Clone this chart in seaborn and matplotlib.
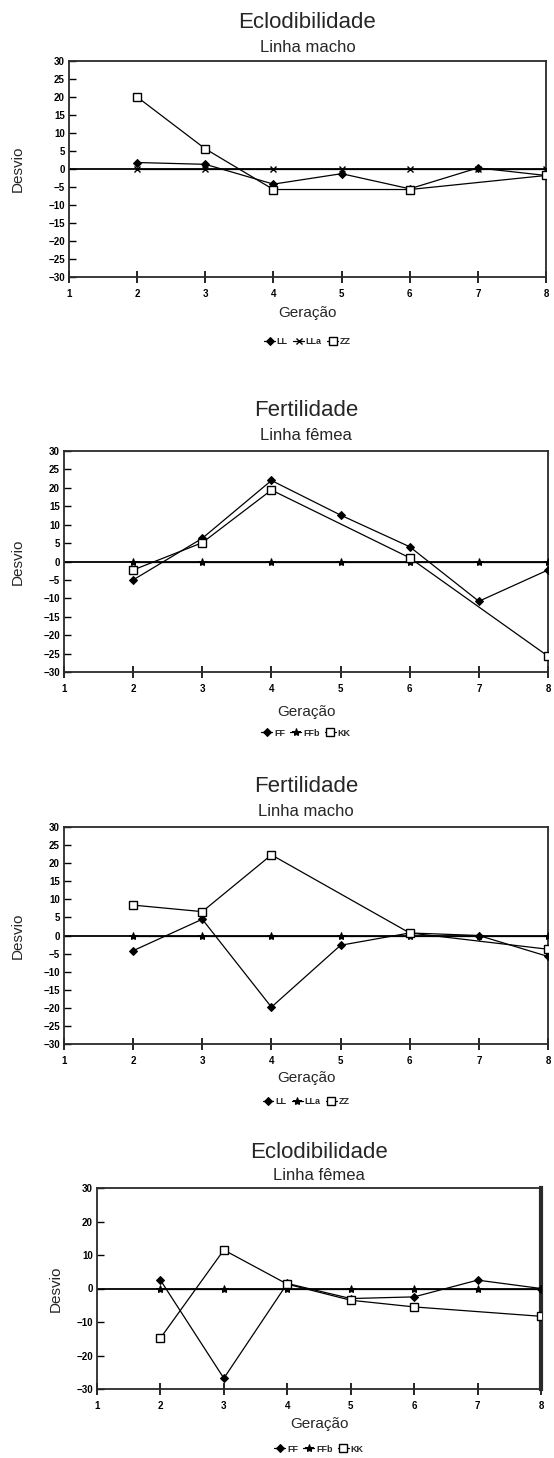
import numpy as np
import pandas as pd
import matplotlib
matplotlib.use("Agg")
import matplotlib.pyplot as plt
import seaborn as sns

# --- dados (desvio por geração) ---
geracao = [2, 3, 4, 5, 6, 7, 8]

eclod_macho_LL = [1.8, 1.3, -4.2, -1.3, -5.5, 0.3, -1.8]
eclod_macho_LLa = [0, 0, 0, 0, 0, 0, 0]
eclod_macho_ZZ = [20.0, 5.6, -5.7, None, -5.7, None, -1.8]

fert_femea_FF = [-5.0, 6.3, 22.0, 12.6, 4.0, -10.8, -2.3]
fert_femea_FFb = [0, 0, 0, 0, 0, 0, 0]
fert_femea_KK = [-2.3, 5.1, 19.4, None, 1.0, None, -25.7]

fert_macho_LL = [-4.2, 4.5, -19.8, -2.7, 0.7, 0.0, -5.8]
fert_macho_LLa = [0, 0, 0, 0, 0, 0, 0]
fert_macho_ZZ = [8.4, 6.6, 22.3, None, 0.7, None, -3.8]

eclod_femea_FF = [2.5, -26.8, 1.5, -3.0, -2.5, 2.5, 0.0]
eclod_femea_FFb = [0, 0, 0, 0, 0, 0, 0]
eclod_femea_KK = [-14.8, 11.5, 1.3, -3.5, -5.5, None, -8.3]

x_ticks = [1, 2, 3, 4, 5, 6, 7, 8]
y_ticks_5 = [-30, -25, -20, -15, -10, -5, 0, 5, 10, 15, 20, 25, 30]
y_ticks_10 = [-30, -20, -10, 0, 10, 20, 30]

sns.set_theme(style="white")
plt.rcParams['font.family'] = ['Liberation Sans', 'DejaVu Sans']

W, H = 554, 1458
fig = plt.figure(figsize=(W / 100, H / 100), dpi=100)

# estilos dos marcadores
FILLED = dict(marker='D', markersize=4, markerfacecolor='black', markeredgecolor='black')
STAR = dict(marker='*', markersize=6, markerfacecolor='black', markeredgecolor='black')
CROSS = dict(marker='x', markersize=5, markeredgecolor='black', markeredgewidth=1)
SQUARE = dict(marker='s', markersize=6, markerfacecolor='white', markeredgecolor='black',
              markeredgewidth=1)


def draw_panel(box, titulo, subtitulo, series, yticks, y_tit, y_sub, x_desvio,
               y_ger, y_leg, thick_right=False):
    L, R, T, B = box
    ax = fig.add_axes([L / W, 1 - B / H, (R - L) / W, (B - T) / H])
    ax.axhline(0, color='black', lw=1.3, zorder=1)
    for label, valores, estilo in series:
        df = pd.DataFrame({'Geração': geracao, 'Desvio': valores}).dropna()
        sns.lineplot(data=df, x='Geração', y='Desvio', ax=ax, color='black',
                     lw=0.9, label=label, zorder=3, **estilo)
    ax.set_xlim(1, 8)
    ax.set_ylim(-30, 30)
    ax.set_xticks(x_ticks)
    ax.set_yticks(yticks)
    ax.tick_params(axis='x', bottom=True, direction='inout', length=9, width=1.2,
                   pad=4, labelsize=7, colors='black')
    ax.tick_params(axis='y', left=True, direction='in', length=5, width=1,
                   pad=3, labelsize=7, colors='black')
    for t in ax.get_xticklabels() + ax.get_yticklabels():
        t.set_fontweight('bold')
    for s in ax.spines.values():
        s.set_color('#2a2a2a')
        s.set_linewidth(1.3)
    if thick_right:
        ax.spines['right'].set_linewidth(3)

    # rótulos posicionados em pixels (centro do texto)
    ax.set_ylabel('Desvio', fontsize=11)
    ax.yaxis.set_label_coords((x_desvio + 6 - L) / (R - L), 0.5)
    ax.set_xlabel('Geração', fontsize=11)
    ax.xaxis.set_label_coords(0.5, -(y_ger - 7 - B) / (B - T))

    cx = (L + R) / 2 / W
    fig.text(cx, 1 - y_tit / H, titulo, ha='center', va='center', fontsize=16)
    fig.text(cx, 1 - y_sub / H, subtitulo, ha='center', va='center', fontsize=12)

    ax.legend(loc='center', bbox_to_anchor=(0.5, -(y_leg - B) / (B - T)), ncol=3,
              frameon=False, prop={'size': 6.5, 'weight': 'bold'}, handlelength=1.2,
              handletextpad=0.2, columnspacing=0.6, borderaxespad=0)
    return ax


draw_panel((69, 546, 61, 277), 'Eclodibilidade', 'Linha macho',
           [('LL', eclod_macho_LL, FILLED), ('LLa', eclod_macho_LLa, CROSS),
            ('ZZ', eclod_macho_ZZ, SQUARE)],
           y_ticks_5, 22, 47, 19, 313, 342)

draw_panel((64, 548, 451, 672), 'Fertilidade', 'Linha fêmea',
           [('FF', fert_femea_FF, FILLED), ('FFb', fert_femea_FFb, STAR),
            ('KK', fert_femea_KK, SQUARE)],
           y_ticks_5, 410, 436, 19, 712, 733)

draw_panel((64, 548, 827, 1044), 'Fertilidade', 'Linha macho',
           [('LL', fert_macho_LL, FILLED), ('LLa', fert_macho_LLa, STAR),
            ('ZZ', fert_macho_ZZ, SQUARE)],
           y_ticks_5, 787, 811, 19, 1078, 1102)

draw_panel((97, 541, 1188, 1389), 'Eclodibilidade', 'Linha fêmea',
           [('FF', eclod_femea_FF, FILLED), ('FFb', eclod_femea_FFb, STAR),
            ('KK', eclod_femea_KK, SQUARE)],
           y_ticks_10, 1152, 1175, 57, 1424, 1449, thick_right=True)

fig.savefig('out.png', dpi=100, facecolor='white')
